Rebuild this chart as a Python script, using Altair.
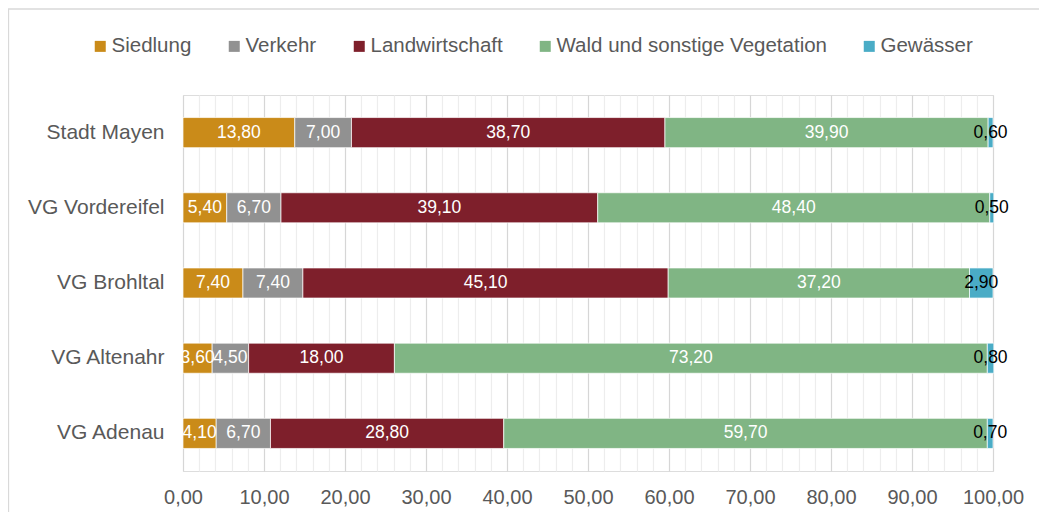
import altair as alt
import pandas as pd

regions = ["Stadt Mayen", "VG Vordereifel", "VG Brohltal", "VG Altenahr", "VG Adenau"]
categories = ["Siedlung", "Verkehr", "Landwirtschaft", "Wald und sonstige Vegetation", "Gewässer"]
colors = ["#CA8B19", "#919191", "#7E1F2B", "#80B584", "#4AACC6"]

siedlung = [13.80, 5.40, 7.40, 3.60, 4.10]
verkehr = [7.00, 6.70, 7.40, 4.50, 6.70]
landwirtschaft = [38.70, 39.10, 45.10, 18.00, 28.80]
wald = [39.90, 48.40, 37.20, 73.20, 59.70]
gewaesser = [0.60, 0.50, 2.90, 0.80, 0.70]

series = [siedlung, verkehr, landwirtschaft, wald, gewaesser]
rows = []
for ci, (cat, vals) in enumerate(zip(categories, series)):
    for r, v in zip(regions, vals):
        rows.append({"region": r, "cat": cat, "value": v, "order": ci})
df = pd.DataFrame(rows)

FONT = "Liberation Sans"
W, H = 810, 376

base = alt.Chart(df).transform_stack(
    stack="value", groupby=["region"], as_=["x0", "x1"], sort=[alt.SortField("order")]
).transform_calculate(
    mid="(datum.x0 + datum.x1) / 2",
    lab="replace(format(datum.value, '.2f'), '.', ',')",
)

xaxis = alt.Axis(
    values=list(range(0, 101, 2)),
    tickCount=200,
    labelExpr="datum.value % 10 === 0 ? replace(format(datum.value, '.2f'), '.', ',') : ''",
    grid=True,
    gridColor=alt.condition("datum.value % 10 === 0", alt.value("#d6d6d6"), alt.value("#ededed")),
    gridWidth=1.2,
    ticks=False,
    domain=False,
    labelFontSize=20,
    labelColor="#595959",
    labelFont=FONT,
    labelPadding=16,
    labelOverlap=False,
    labelFlush=False,
    labelAlign="center",
)

yaxis = alt.Axis(
    domain=False, ticks=False, labelFontSize=21, labelColor="#595959",
    labelFont=FONT, labelPadding=19, grid=False, labelLimit=300,
)

xscale = alt.Scale(domain=[0, 100], nice=False)
yscale = alt.Scale(paddingInner=0.6, paddingOuter=0.3)

bars = base.mark_bar(stroke="white", strokeWidth=0.7).encode(
    x=alt.X("x0:Q", scale=xscale, title=None, axis=xaxis),
    x2="x1:Q",
    y=alt.Y("region:N", sort=regions, title=None, scale=yscale, axis=yaxis),
    color=alt.Color(
        "cat:N",
        scale=alt.Scale(domain=categories, range=colors),
        legend=alt.Legend(
            title=None, orient="none", legendX=-93, legendY=-59,
            direction="horizontal", columns=5, symbolType="square", symbolSize=121,
            symbolStrokeWidth=0, labelFontSize=20.5, labelFont=FONT, labelColor="#595959",
            columnPadding=32, labelOffset=1, padding=0, labelLimit=500,
        ),
    ),
    order=alt.Order("order:Q"),
)

texts = base.mark_text(fontSize=17.5, font=FONT, baseline="middle", align="center").encode(
    x=alt.X("mid:Q", scale=xscale, title=None, axis=xaxis),
    y=alt.Y("region:N", sort=regions, title=None, scale=yscale, axis=yaxis),
    text="lab:N",
    color=alt.condition("datum.cat === 'Gewässer'", alt.value("#000000"), alt.value("#ffffff")),
)

border = alt.Chart(pd.DataFrame({"a": [0]})).mark_rect(
    fillOpacity=0, stroke="#d9d9d9", strokeWidth=1.3
).encode(
    x=alt.value(-174.5), x2=alt.value(900), y=alt.value(-86), y2=alt.value(600)
)

chart = alt.layer(border, bars, texts).properties(
    width=W, height=H,
    autosize=alt.AutoSizeParams(type="none"),
    padding={"left": 175, "top": 87, "right": 46, "bottom": 41},
).configure_view(strokeWidth=0, stroke="transparent").configure(background="white")

chart.save("out.html", embed_options={"renderer": "svg", "actions": False})
